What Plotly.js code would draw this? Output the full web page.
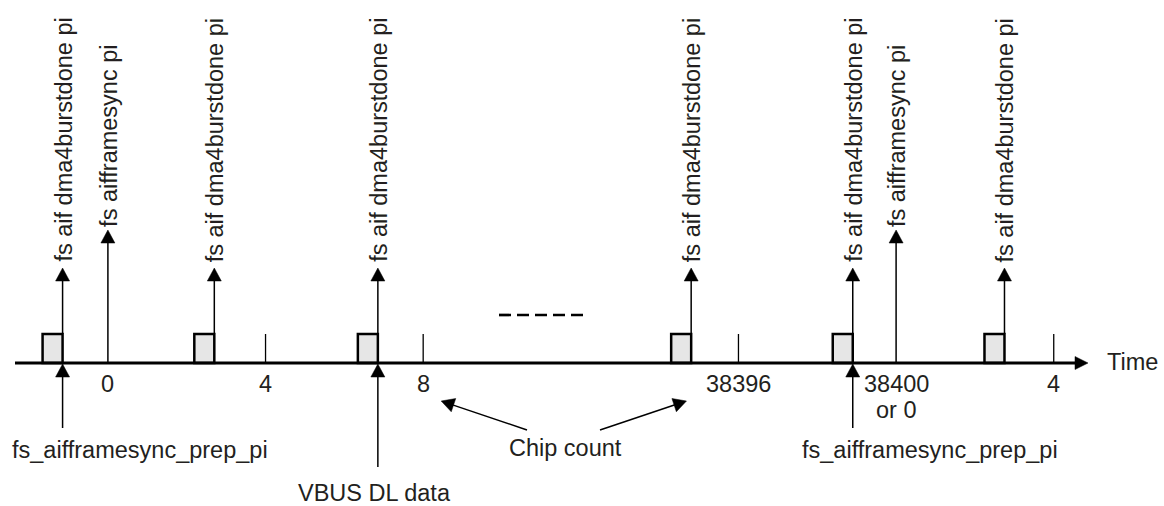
<!DOCTYPE html>
<html>
<head>
<meta charset="utf-8">
<script src="https://cdn.plot.ly/plotly-3.0.1.min.js"></script>
<style>html,body{margin:0;padding:0;background:#fff;}#chart{width:1164px;height:506px;}</style>
</head>
<body>
<div id="chart"></div>
<script>
// ---------- DATA (chip counts on the timeline) ----------
const tickChips = [0, 4, 8, 38396, 38400, 38404];
const tickLabels = ['0', '4', '8', '38396', '38400', '4'];
const tickSubLabels = ['', '', '', '', 'or 0', ''];
const frameSyncChips = [0, 38400];                                   // fs aifframesync pi
const frameSyncLabel = 'fs aifframesync pi';
const dmaDoneChips = [-1.15, 2.7, 6.85, 38394.8, 38398.9, 38402.75]; // fs aif dma4burstdone pi
const dmaDoneLabel = 'fs aif dma4burstdone pi';
const prepChips = [-1.15, 38398.9];                                  // fs_aifframesync_prep_pi
const prepLabel = 'fs_aifframesync_prep_pi';
const vbusChips = [6.85];
const vbusLabel = 'VBUS DL data';
const chipCountTargets = [8, 38396];
const chipCountLabel = 'Chip count';
const axisLabel = 'Time';

// ---------- LAYOUT / STYLE ----------
const W = 1164, H = 506;
const X0 = 107.9, PPU = 39.41;            // px of chip 0, px per chip
const BREAK_FROM = 8, BREAK_TO = 38396, BREAK_DISP = 16;
function disp(c) { return c > 1000 ? c - BREAK_TO + BREAK_DISP : c; }
function u(px) { return (px - X0) / PPU; } // px -> axis units
function du(px) { return px / PPU; }       // px length -> units
const AXIS_Y = 363, AXIS_X0 = 15, AXIS_TIP = 1088;
const BOX_W = 20, BOX_H = 29;
const DMA_TIP = 268, SYNC_TIP = 230, TICK_TOP = 334;
const PREP_TAIL = 428, VBUS_TAIL = 467;
const HEAD_LEN = 13, HEAD_HW = 7;
const FONT = {family: '"Liberation Sans", Arial, sans-serif', size: 23.5, color: '#231f20'};
const INK = '#000000';

// arrowhead triangle (px geometry -> axis units)
function head(tipXu, tipY, dx, dy, len, hw) {
  const n = Math.hypot(dx, dy); dx /= n; dy /= n;
  const bx = -dx * len, by = -dy * len;
  const px = -dy, py = dx;
  return {
    x: [tipXu, tipXu + du(bx + px * hw), tipXu + du(bx - px * hw), tipXu, null],
    y: [tipY, tipY + by + py * hw, tipY + by - py * hw, tipY, null]
  };
}

const lineX = [], lineY = [];
const headX = [], headY = [];
function seg(x1, y1, x2, y2) { lineX.push(x1, x2, null); lineY.push(y1, y2, null); }
function addHead(h) { headX.push(...h.x); headY.push(...h.y); }

// upward arrows from dma boxes
dmaDoneChips.forEach(c => {
  const x = disp(c);
  seg(x, AXIS_Y - BOX_H, x, DMA_TIP + HEAD_LEN - 1);
  addHead(head(x, DMA_TIP, 0, -1, HEAD_LEN, HEAD_HW));
});
// tall frame sync arrows
frameSyncChips.forEach(c => {
  const x = disp(c);
  seg(x, AXIS_Y, x, SYNC_TIP + HEAD_LEN - 1);
  addHead(head(x, SYNC_TIP, 0, -1, HEAD_LEN, HEAD_HW));
});
// bottom arrows
prepChips.forEach(c => {
  const x = disp(c);
  seg(x, PREP_TAIL, x, AXIS_Y + 1 + HEAD_LEN - 1);
  addHead(head(x, AXIS_Y + 1, 0, -1, HEAD_LEN, HEAD_HW));
});
vbusChips.forEach(c => {
  const x = disp(c);
  seg(x, VBUS_TAIL, x, AXIS_Y + 1 + HEAD_LEN - 1);
  addHead(head(x, AXIS_Y + 1, 0, -1, HEAD_LEN, HEAD_HW));
});
// chip count arrows
const CC_X = 565, CC_Y = 448;
const ccTails = [[CC_X - 38, 430], [CC_X + 35, 430]];
const ccTipOff = [18, -52];
chipCountTargets.forEach((c, i) => {
  const tipXu = disp(c) + du(ccTipOff[i]);
  const tipY = 401;
  const tailXu = u(ccTails[i][0]), tailY = ccTails[i][1];
  const dxp = (tipXu - tailXu) * PPU, dyp = tipY - tailY;
  const n = Math.hypot(dxp, dyp);
  seg(tailXu, tailY, tipXu - du(dxp / n * (HEAD_LEN - 1)), tipY - dyp / n * (HEAD_LEN - 1));
  addHead(head(tipXu, tipY, dxp, dyp, HEAD_LEN, HEAD_HW));
});

// ticks
const tickX = [], tickY = [];
tickChips.forEach(c => {
  if (frameSyncChips.indexOf(c) >= 0) return;
  tickX.push(disp(c), disp(c), null); tickY.push(AXIS_Y, TICK_TOP, null);
});

// axis arrow
const axisHead = head(u(AXIS_TIP), AXIS_Y, 1, 0, 13, 6.5);

const traces = [
  { type: 'bar', x: dmaDoneChips.map(c => disp(c) - du(BOX_W) / 2), y: dmaDoneChips.map(() => -BOX_H),
    base: AXIS_Y, width: du(BOX_W), marker: {color: '#e6e6e6', line: {color: INK, width: 2.5}},
    hoverinfo: 'skip', showlegend: false },
  { type: 'scatter', mode: 'lines', x: tickX, y: tickY, line: {color: INK, width: 1.3}, hoverinfo: 'skip', showlegend: false },
  { type: 'scatter', mode: 'lines', x: lineX, y: lineY, line: {color: INK, width: 1.5}, hoverinfo: 'skip', showlegend: false },
  { type: 'scatter', mode: 'lines', x: [u(AXIS_X0), u(AXIS_TIP - 12)], y: [AXIS_Y, AXIS_Y],
    line: {color: INK, width: 2.8}, hoverinfo: 'skip', showlegend: false },
  { type: 'scatter', mode: 'lines', x: headX.concat(axisHead.x), y: headY.concat(axisHead.y),
    fill: 'toself', fillcolor: INK, line: {color: INK, width: 0.5}, hoverinfo: 'skip', showlegend: false },
  // break marker (dashes between chip 8 and 38396)
  { type: 'scatter', mode: 'lines', x: [u(499), u(586)], y: [315, 315],
    line: {color: INK, width: 2.7, dash: '12px,6px'}, hoverinfo: 'skip', showlegend: false }
];

const ann = [];
function txt(x, y, text, opts) {
  ann.push(Object.assign({x: x, y: y, xref: 'x', yref: 'y', text: text, showarrow: false, font: FONT,
    xanchor: 'center', yanchor: 'middle', borderpad: 0}, opts || {}));
}
dmaDoneChips.forEach(c => txt(disp(c), DMA_TIP - 5, dmaDoneLabel, {textangle: -90, yanchor: 'bottom', xshift: 1}));
frameSyncChips.forEach(c => txt(disp(c), SYNC_TIP - 2, frameSyncLabel, {textangle: -90, yanchor: 'bottom', xshift: 1}));
tickChips.forEach((c, i) => {
  txt(disp(c), 384, tickLabels[i]);
  if (tickSubLabels[i]) txt(disp(c), 410, tickSubLabels[i]);
});
prepChips.forEach(c => txt(disp(c), 450, prepLabel, {xanchor: 'left', xshift: -52}));
vbusChips.forEach(c => txt(disp(c), 493, vbusLabel, {xshift: -3}));
txt(u(CC_X), CC_Y, chipCountLabel);
txt(u(1106), 362, axisLabel, {xanchor: 'left'});

const layout = {
  width: W, height: H, margin: {l: 0, r: 0, t: 0, b: 0},
  paper_bgcolor: '#fff', plot_bgcolor: '#fff', showlegend: false,
  xaxis: {range: [u(0), u(W)], visible: false, fixedrange: true},
  yaxis: {range: [H, 0], visible: false, fixedrange: true},
  annotations: ann, hovermode: false, bargap: 0
};
Plotly.newPlot('chart', traces, layout, {staticPlot: true, displayModeBar: false});
</script>
</body>
</html>
